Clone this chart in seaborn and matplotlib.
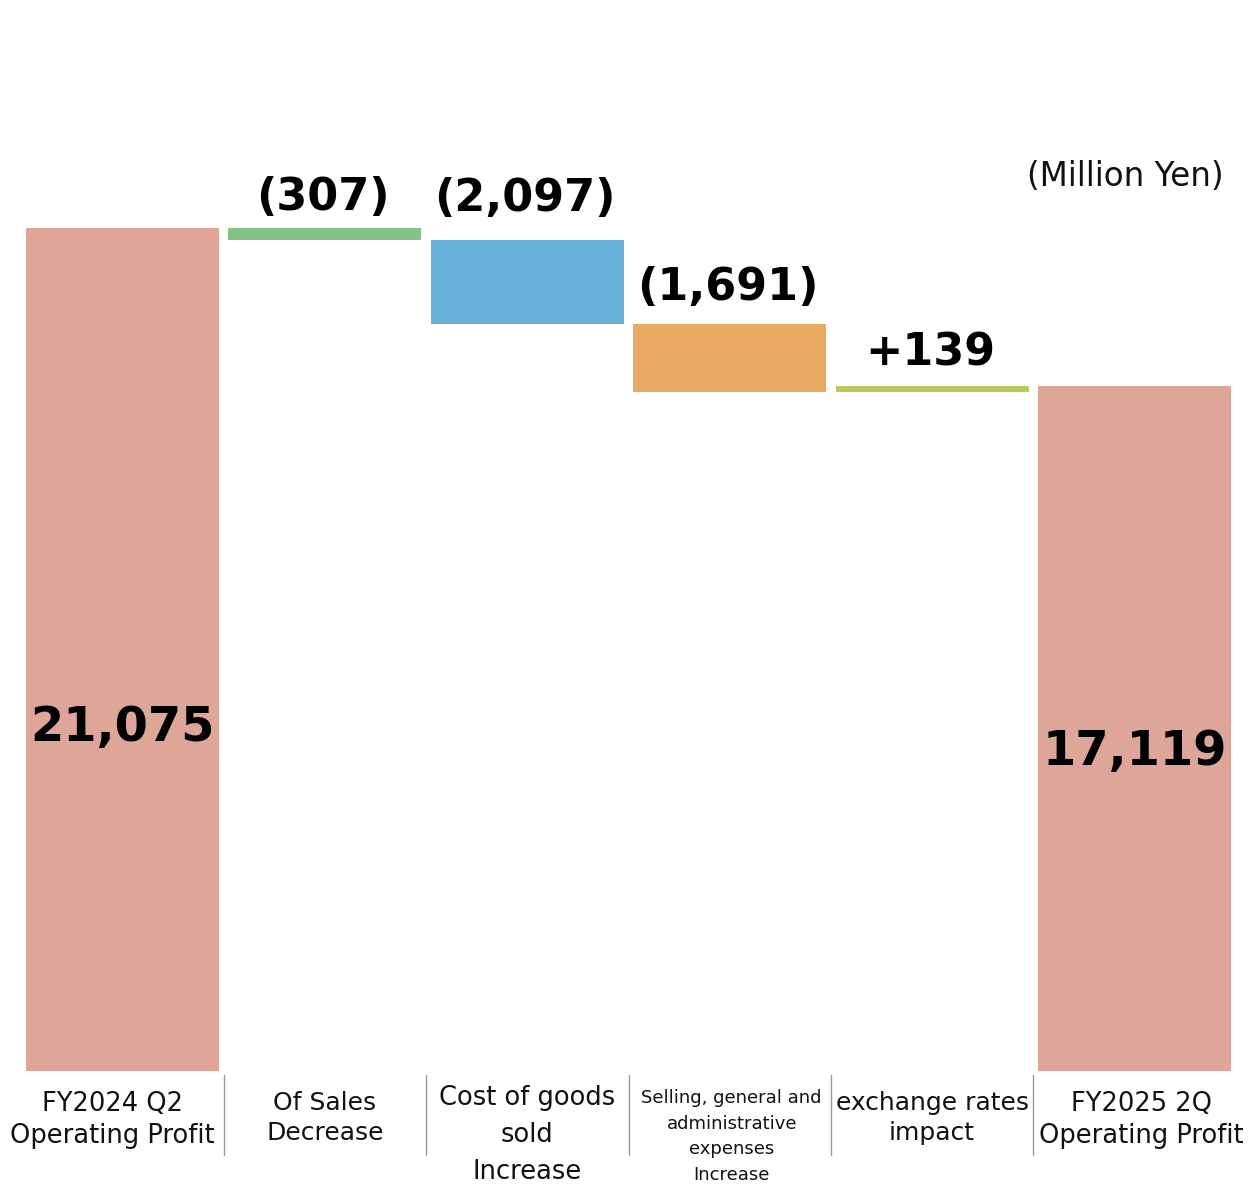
import matplotlib
matplotlib.use("Agg")
import matplotlib.pyplot as plt
import matplotlib.transforms as mtransforms
import pandas as pd
import seaborn as sns

# Data
categories = [
    "FY2024 Q2\nOperating Profit",
    "Of Sales\nDecrease",
    "Cost of goods\nsold\nIncrease",
    "Selling, general and\nadministrative\nexpenses\nIncrease",
    "exchange rates\nimpact",
    "FY2025 2Q\nOperating Profit",
]
values = [21075, -307, -2097, -1691, 139, 17119]
is_total = [True, False, False, False, False, True]
value_labels = ["21,075", "(307)", "(2,097)", "(1,691)", "+139", "17,119"]
unit_label = "(Million Yen)"

# Style
bar_colors = ["#DDA699", "#84C386", "#67AFD6", "#E8A963", "#BBCB5B", "#DDA699"]
cat_fontsizes = [18.5, 18, 18.5, 13, 18, 18.5]
cat_linespacing = [1.3, 1.3, 1.55, 1.55, 1.3, 1.3]
cat_dx_px = [-10, 0, 0, 2, 0, 7]
cat_top_px = [-20, -20, -14, -18, -20, -20]
label_gap_px = [0, 30, 42, 37, 33, 0]      # delta labels: centre above bar top
total_label_frac = [0.408, 0, 0, 0, 0, 0.466]

sns.set_theme(style="white")
plt.rcParams["font.family"] = ["DejaVu Sans"]

# waterfall levels
tops, bottoms = [], []
level = 0
for v, total in zip(values, is_total):
    if total:
        bottoms.append(0)
        tops.append(v)
        level = v
    else:
        new = level + v
        bottoms.append(min(level, new))
        tops.append(max(level, new))
        level = new

df = pd.DataFrame({"category": categories, "top": tops, "bottom": bottoms})

fig = plt.figure(figsize=(12.5, 11.87), dpi=100)
ax = fig.add_axes([21.3 / 1250, (1187 - 1071) / 1187, 1214.4 / 1250, 1071 / 1187])

sns.barplot(data=df, x="category", y="top", hue="category", palette=bar_colors,
            width=0.954, dodge=False, legend=False, saturation=1, linewidth=0, ax=ax)
sns.barplot(data=df, x="category", y="bottom", color="white",
            width=0.97, saturation=1, linewidth=0, ax=ax)

ax.set_xlim(-0.5, len(categories) - 0.5)
ax.set_ylim(0, 1071 * 21075 / 843)
ax.set_xticks([])
ax.set_yticks([])
ax.set_xlabel("")
ax.set_ylabel("")
for s in ax.spines.values():
    s.set_visible(False)

# value labels
for i, (lab, total) in enumerate(zip(value_labels, is_total)):
    if total:
        ax.text(i, tops[i] * total_label_frac[i], lab, ha="center", va="center",
                fontsize=34.5, fontweight="bold", color="black")
    else:
        ax.annotate(lab, xy=(i, tops[i]), xycoords="data",
                    xytext=(-2, label_gap_px[i]), textcoords="offset pixels",
                    ha="center", va="center", fontsize=32, fontweight="bold",
                    color="black", annotation_clip=False)

# category labels under the bars
for i, cat in enumerate(categories):
    ax.annotate(cat, xy=(i, 0), xycoords="data",
                xytext=(cat_dx_px[i], cat_top_px[i]),
                textcoords="offset pixels", ha="center", va="top",
                fontsize=cat_fontsizes[i], color="#111111",
                linespacing=cat_linespacing[i], annotation_clip=False)

# separators between categories
trans = mtransforms.blended_transform_factory(ax.transData, ax.transAxes)
for i in range(len(categories) - 1):
    ax.plot([i + 0.5, i + 0.5], [-4 / 1071, -84 / 1071], transform=trans,
            color="#9a9a9a", linewidth=1, clip_on=False)

fig.text(1224 / 1250, 1 - 177 / 1187, unit_label, ha="right", va="center",
         fontsize=23.5, color="#111111")

fig.savefig("out.png", dpi=100)
